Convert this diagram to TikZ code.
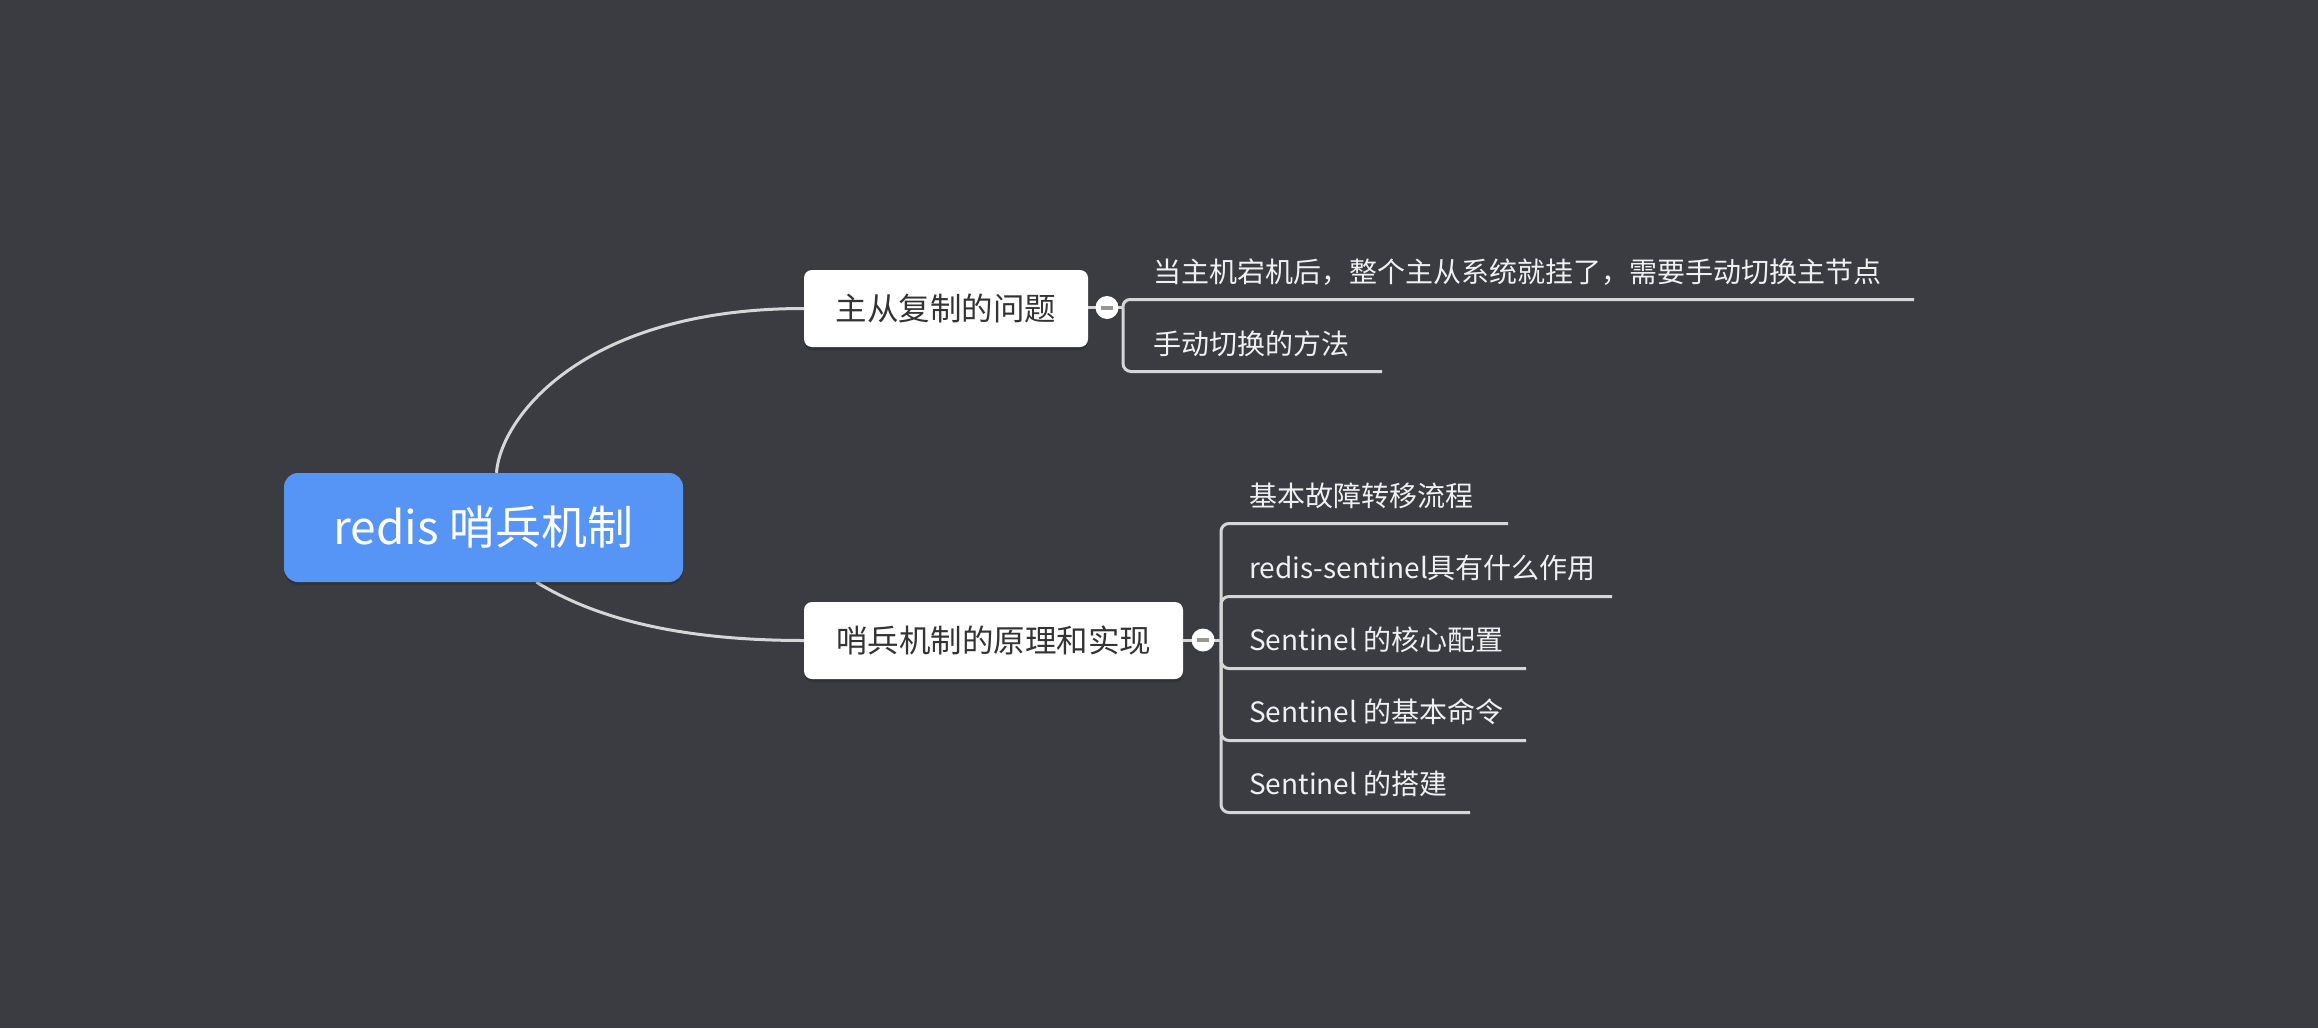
\documentclass[tikz,border=0pt]{standalone}
\usepackage{fontspec}
\setmainfont{Noto Sans CJK SC}
\usetikzlibrary{shadows}
\pgfdeclarelayer{bg}
\pgfsetlayers{bg,main}
\definecolor{bgc}{RGB}{59,60,66}
\definecolor{rootblue}{RGB}{86,148,245}
\definecolor{linec}{RGB}{214,214,214}
\definecolor{boxtext}{RGB}{51,51,51}
\definecolor{childtext}{RGB}{240,240,240}
\definecolor{minusc}{RGB}{150,150,150}
\tikzset{
  rootbox/.style={rectangle, rounded corners=14pt, fill=rootblue, text=white,
    minimum width=399pt, minimum height=109pt, inner sep=0pt,
    font=\fontsize{46}{50}\selectfont,
    drop shadow={shadow xshift=0pt, shadow yshift=-3pt, opacity=0.15, fill=black}},
  topicbox/.style={rectangle, rounded corners=8pt, fill=white, text=boxtext,
    minimum height=77pt, inner sep=0pt,
    font=\fontsize{31.5}{36}\selectfont,
    drop shadow={shadow xshift=0pt, shadow yshift=-3pt, opacity=0.15, fill=black}},
  childtxt/.style={anchor=west, inner sep=0pt, text=childtext,
    font=\fontsize{28}{32}\selectfont},
  branch/.style={draw=linec, line width=3pt},
  foldc/.style={circle, fill=white, minimum size=23pt, inner sep=0pt},
}
\begin{document}
\begin{tikzpicture}[x=1pt,y=-1pt]
\begin{pgfonlayer}{bg}
\fill[bgc] (0,0) rectangle (2318,1028);
\end{pgfonlayer}
\useasboundingbox (0,0) rectangle (2318,1028);

\node[rootbox] (root) at (483.5,527.5) {redis 哨兵机制};
\node[topicbox, minimum width=284pt] (t1) at (946,308.5) {主从复制的问题};
\node[topicbox, minimum width=379pt] (t2) at (993.5,640.5) {哨兵机制的原理和实现};

\begin{pgfonlayer}{bg}
\draw[branch] ([xshift=13pt]root.north)
  .. controls (500,420) and (580,308.5) .. (t1.west);
\draw[branch] ([xshift=53pt]root.south)
  .. controls (590,615) and (670,640.5) .. (t2.west);
\end{pgfonlayer}

% fold 1
\coordinate (j1) at (1123,307.5);
\coordinate (u1a) at (1914,299.5);
\coordinate (u1b) at (1382,371.5);
\begin{pgfonlayer}{bg}
\draw[branch] (t1.east |- j1) -- (j1);
\draw[branch, rounded corners=7pt] (j1) |- (u1a);
\draw[branch, rounded corners=8pt] (j1) |- (u1b);
\end{pgfonlayer}
\node[foldc] (c1) at (1107,307.5) {};
\draw[minusc, line width=4pt] ([xshift=-6pt]c1.center) -- ([xshift=6pt]c1.center);

\node[childtxt] (a1) at (1153,272) {当主机宕机后，整个主从系统就挂了，需要手动切换主节点};
\node[childtxt] (a2) at (1153,344) {手动切换的方法};

% fold 2
\coordinate (j2) at (1221,640);
\coordinate (v1) at (1508,523.5);
\coordinate (v2) at (1612,596.5);
\coordinate (v3) at (1526,668.5);
\coordinate (v4) at (1526,740.5);
\coordinate (v5) at (1470,812.5);
\begin{pgfonlayer}{bg}
\draw[branch] (t2.east |- j2) -- (j2);
\foreach \v in {v1,v2,v3,v4,v5}{
  \draw[branch, rounded corners=8pt] (j2) |- (\v);
}
\end{pgfonlayer}
\node[foldc] (c2) at (1203,640) {};
\draw[minusc, line width=4pt] ([xshift=-6pt]c2.center) -- ([xshift=6pt]c2.center);

\node[childtxt] (b1) at (1249,496) {基本故障转移流程};
\node[childtxt] (b2) at (1249,568) {redis-sentinel具有什么作用};
\node[childtxt] (b3) at (1249,640) {Sentinel 的核心配置};
\node[childtxt] (b4) at (1249,712) {Sentinel 的基本命令};
\node[childtxt] (b5) at (1249,784) {Sentinel 的搭建};
\end{tikzpicture}
\end{document}
